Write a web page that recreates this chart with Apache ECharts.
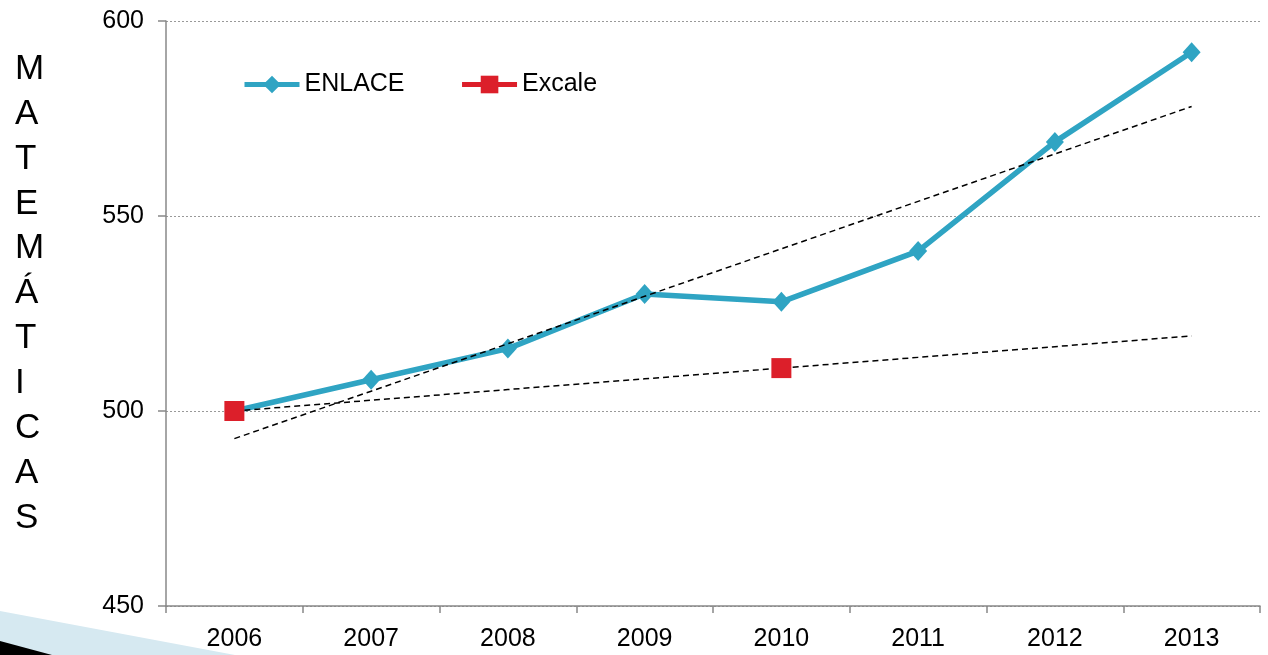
<!DOCTYPE html>
<html><head><meta charset="utf-8">
<script src="https://cdn.jsdelivr.net/npm/echarts@6/dist/echarts.min.js"></script>
<style>html,body{margin:0;padding:0;background:#fff}#c{width:1268px;height:655px}</style>
</head><body><div id="c"></div>
<script>
const years = ['2006','2007','2008','2009','2010','2011','2012','2013'];
const enlace = [500, 508, 516, 530, 528, 541, 569, 592];
const excale = [500, null, null, null, 511, null, null, null];
const yTicks = [450, 500, 550, 600];
const sideTitle = 'MATEMÁTICAS';

function linTrend(vals){
  const pts = vals.map((v,i)=>[i,v]).filter(p=>p[1]!=null);
  const n = pts.length;
  const mx = pts.reduce((s,p)=>s+p[0],0)/n, my = pts.reduce((s,p)=>s+p[1],0)/n;
  let sxy=0,sxx=0; pts.forEach(p=>{sxy+=(p[0]-mx)*(p[1]-my);sxx+=(p[0]-mx)*(p[0]-mx);});
  const b = sxy/sxx, a = my-b*mx;
  return vals.map((_,i)=>+(a+b*i).toFixed(3));
}

const chart = echarts.init(document.getElementById('c'));
const font = 'Liberation Sans, Arial, sans-serif';
const blue = '#2FA4C3', red = '#DC1F2A';
const trendStyle = {color:'#000', width:1.5, type:[6,4]};
chart.setOption({
  animation:false,
  grid:{left:166,right:8,top:21,bottom:49},
  legend:{
    left:242, top:72, padding:0, itemWidth:55, itemHeight:22, itemGap:55,
    lineStyle:{width:5},
    textStyle:{fontFamily:font,fontSize:25,color:'#000'},
    data:['ENLACE','Excale']
  },
  xAxis:{
    type:'category', data:years, boundaryGap:true,
    axisLine:{lineStyle:{color:'#888',width:1.5}},
    axisTick:{show:true,length:7,lineStyle:{color:'#888',width:1.5}},
    axisLabel:{fontFamily:font,fontSize:25,color:'#000',margin:21}
  },
  yAxis:{
    type:'value', min:450, max:600, interval:50,
    axisLine:{show:true,lineStyle:{color:'#888',width:1.5}},
    axisTick:{show:true,length:8,lineStyle:{color:'#888',width:1.5}},
    axisLabel:{fontFamily:font,fontSize:25,color:'#000',margin:22,
      formatter:v=>yTicks.includes(v)?String(v):''},
    splitLine:{show:true,lineStyle:{color:'#999',type:[2,2],width:1}}
  },
  graphic:[
    {type:'polygon',shape:{points:[[0,611],[235,655],[0,655]]},style:{fill:'#D6E9F1'},silent:true},
    {type:'polygon',shape:{points:[[0,641],[52,655],[0,655]]},style:{fill:'#000'},silent:true},
    {type:'text',left:15,top:47,style:{text:sideTitle.split('').join('\n'),
      fontFamily:font,fontSize:35,lineHeight:44.85,fill:'#000',align:'left'}}
  ],
  series:[
    {name:'ENLACE trend',type:'line',data:linTrend(enlace),symbol:'none',lineStyle:trendStyle,z:3,silent:true},
    {name:'Excale trend',type:'line',data:linTrend(excale),symbol:'none',lineStyle:trendStyle,z:3,silent:true},
    {name:'ENLACE',type:'line',data:enlace,symbol:'diamond',symbolSize:[18,20],
      lineStyle:{color:blue,width:5.5},itemStyle:{color:blue},z:2},
    {name:'Excale',type:'line',data:excale,connectNulls:false,symbol:'rect',symbolSize:20,
      lineStyle:{color:red,width:5.5},itemStyle:{color:red},z:4}
  ]
});
</script></body></html>
